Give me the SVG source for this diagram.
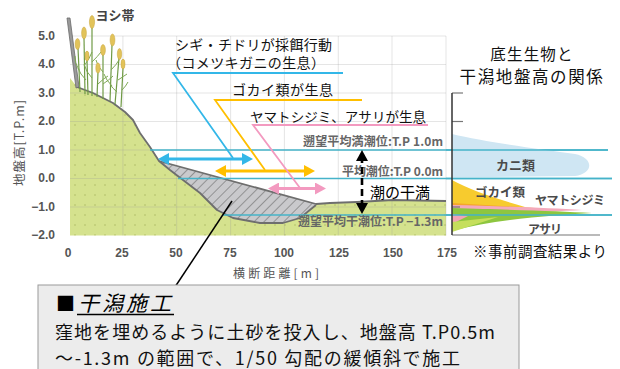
<svg xmlns="http://www.w3.org/2000/svg" width="620" height="369" viewBox="0 0 620 369">
  <style>
    .cjk { font-family: "Noto Sans CJK JP", "Liberation Sans", sans-serif; }
    .num { font-family: "Liberation Sans", "Noto Sans CJK JP", sans-serif; font-weight: bold; fill: #555; font-size: 12px; }
    .tide { font-family: "Noto Sans CJK JP", "Liberation Sans", sans-serif; font-weight: bold; fill: #666; font-size: 12px; }
    .grid { stroke: rgba(150,150,150,0.25); stroke-width: 1; }
    .tideline { stroke: #45b3c9; stroke-width: 1.6; fill: none; }
    .ground { stroke: #6e6e6e; stroke-width: 1.8; fill: none; stroke-linejoin: round; }
    .stalk { stroke: #6f9a45; stroke-width: 1.2; fill: none; }
    .leaf { stroke: #7fa955; stroke-width: 1; fill: none; }
    .plume { fill: #e2c35a; stroke: #c7a43c; stroke-width: 0.5; }
    .bio { font-family: "Noto Sans CJK JP", sans-serif; font-weight: bold; fill: #4a4a4a; }
  </style>
  <defs>
    <pattern id="dots" patternUnits="userSpaceOnUse" width="10" height="10">
      <circle cx="5" cy="5" r="0.8" fill="#aebb63"/>
    </pattern>
    <pattern id="hatch" patternUnits="userSpaceOnUse" width="7" height="7" patternTransform="rotate(45)">
      <rect width="7" height="7" fill="#c9c9cc"/>
      <line x1="0" y1="0" x2="0" y2="7" stroke="#7a7a7a" stroke-width="1.4"/>
    </pattern>
    <marker id="headBlue" markerUnits="userSpaceOnUse" markerWidth="12" markerHeight="12" refX="5" refY="6" orient="auto-start-reverse">
      <path d="M0,0 L11,6 L0,12 z" fill="#33b7e8"/>
    </marker>
    <marker id="headYellow" markerUnits="userSpaceOnUse" markerWidth="12" markerHeight="12" refX="5" refY="6" orient="auto-start-reverse">
      <path d="M0,0 L11,6 L0,12 z" fill="#ffbf00"/>
    </marker>
    <marker id="headPink" markerUnits="userSpaceOnUse" markerWidth="12" markerHeight="12" refX="5" refY="6" orient="auto-start-reverse">
      <path d="M0,0 L11,6 L0,12 z" fill="#f39ac0"/>
    </marker>
    <marker id="headBlack" markerUnits="userSpaceOnUse" markerWidth="12" markerHeight="12" refX="5" refY="6" orient="auto-start-reverse">
      <path d="M0,0 L11,6 L0,12 z" fill="#000"/>
    </marker>
  </defs>

  <rect width="620" height="369" fill="#fff"/>

  <!-- cross-section chart -->
  <g id="section">
    <!-- ground body -->
    <path d="M70,78 L77,87 L93,93 L113,103 L125,112 L133,120 L140,133 L150,147 L159,161 L316,204 L330,203 L357,202 L393,200 L446,201 L446,235.5 L70,235.5 Z" fill="#d5e28e"/>
    <path d="M70,78 L77,87 L93,93 L113,103 L125,112 L133,120 L140,133 L150,147 L159,161 L316,204 L330,203 L357,202 L393,200 L446,201 L446,235.5 L70,235.5 Z" fill="url(#dots)"/>
    <!-- grid -->
    <g class="grid">
      <line x1="70" y1="36" x2="446" y2="36"/>
      <line x1="70" y1="64.5" x2="446" y2="64.5"/>
      <line x1="70" y1="93" x2="446" y2="93"/>
      <line x1="70" y1="121.5" x2="446" y2="121.5"/>
      <line x1="70" y1="150" x2="446" y2="150"/>
      <line x1="70" y1="178.5" x2="446" y2="178.5"/>
      <line x1="70" y1="207" x2="446" y2="207"/>
      <line x1="122.9" y1="36" x2="122.9" y2="235.5"/>
      <line x1="176.7" y1="36" x2="176.7" y2="235.5"/>
      <line x1="230.6" y1="36" x2="230.6" y2="235.5"/>
      <line x1="284.4" y1="36" x2="284.4" y2="235.5"/>
      <line x1="338.3" y1="36" x2="338.3" y2="235.5"/>
      <line x1="392" y1="36" x2="392" y2="235.5"/>
      <line x1="446" y1="36" x2="446" y2="235.5"/>
    </g>
    <!-- fill placed in the hollow -->
    <path d="M159,161 L316,204 L300,218 L283,223 L260,223 L233,218 L217,210 L200,193 L183,180 L170,170 Z" fill="url(#hatch)"/>
    <path class="ground" d="M77,87 L93,93 L113,103 L125,112 L133,120 L140,133 L150,147 L159,161 L316,204 L330,203 L357,202 L393,200 L446,201"/>
    <path class="ground" d="M159,161 L170,170 L183,180 L200,193 L217,210 L233,218 L260,223 L283,223 L300,218 L316,205"/>
    <!-- revetment post -->
    <path d="M67,18 L70,18 L79,87 L76,88 Z" fill="#9a9a9a" stroke="#6a6a6a" stroke-width="0.8"/>
  </g>

  <!-- reed bed -->
  <g id="reeds">
    <path class="stalk" d="M80,92 L78,48"/>
    <path class="stalk" d="M85,94 L84,38"/>
    <path class="stalk" d="M92,96 L92,26"/>
    <path class="stalk" d="M88,95 L87,60"/>
    <path class="stalk" d="M97,97 L98,72"/>
    <path class="stalk" d="M103,99 L103,55"/>
    <path class="stalk" d="M110,101 L112,45"/>
    <path class="stalk" d="M115,104 L119,58"/>
    <path class="stalk" d="M121,107 L123,68"/>
    <path class="leaf" d="M79,70 Q74,62 75,56 M84,66 Q90,58 92,52 M86,80 Q80,74 78,68 M92,62 Q98,56 101,52 M92,78 Q86,72 84,64 M98,84 Q104,78 108,76 M103,72 Q97,66 96,60 M103,84 Q109,80 113,76 M111,70 Q117,64 119,60 M112,86 Q106,80 104,74 M118,80 Q124,76 127,74 M117,92 Q112,88 110,84 M122,90 Q126,86 128,82"/>
    <ellipse class="plume" cx="77.5" cy="44" rx="2.4" ry="5.5"/>
    <ellipse class="plume" cx="84" cy="33" rx="2.4" ry="6"/>
    <ellipse class="plume" cx="92" cy="22" rx="2.6" ry="6.5"/>
    <ellipse class="plume" cx="87" cy="56" rx="2" ry="5"/>
    <ellipse class="plume" cx="98" cy="68" rx="2.2" ry="5"/>
    <ellipse class="plume" cx="103" cy="50" rx="2.4" ry="5.5"/>
    <ellipse class="plume" cx="112.5" cy="40" rx="2.4" ry="6"/>
    <ellipse class="plume" cx="119.5" cy="54" rx="2.2" ry="5.5"/>
    <ellipse class="plume" cx="123" cy="64" rx="2" ry="5"/>
    <text x="115" y="20" class="cjk" font-size="13" font-weight="bold" fill="#444" text-anchor="middle">ヨシ帯</text>
  </g>

  <!-- axes labels -->
  <g id="axes">
    <g class="num" text-anchor="end">
      <text x="55" y="40">5.0</text>
      <text x="55" y="68">4.0</text>
      <text x="55" y="97">3.0</text>
      <text x="55" y="125">2.0</text>
      <text x="55" y="154">1.0</text>
      <text x="55" y="182">0.0</text>
      <text x="55" y="211">−1.0</text>
      <text x="55" y="239">−2.0</text>
    </g>
    <g class="num" text-anchor="middle">
      <text x="68" y="257">0</text>
      <text x="122" y="257">25</text>
      <text x="176" y="257">50</text>
      <text x="230" y="257">75</text>
      <text x="284" y="257">100</text>
      <text x="339" y="257">125</text>
      <text x="393" y="257">150</text>
      <text x="447" y="257">175</text>
    </g>
    <text x="276" y="278" class="cjk" font-size="12" fill="#555" text-anchor="middle" textLength="86">横断距離[m]</text>
    <text transform="translate(24,143) rotate(-90)" class="cjk" font-size="12.5" fill="#555" text-anchor="middle" textLength="86">地盤高[T.P.m]</text>
  </g>

  <!-- tide levels -->
  <g id="tides">
    <line class="tideline" x1="150" y1="150" x2="608" y2="150"/>
    <line class="tideline" x1="178" y1="178.5" x2="612" y2="178.5"/>
    <line class="tideline" x1="223" y1="215" x2="612" y2="215"/>
    <text x="303" y="146" class="tide" textLength="140">遡望平均満潮位:T.P 1.0m</text>
    <text x="342" y="176" class="tide" textLength="101">平均潮位:T.P 0.0m</text>
    <text x="298" y="226" class="tide" textLength="145">遡望平均干潮位:T.P −1.3m</text>
    <line x1="362" y1="156" x2="362" y2="208" stroke="#000" stroke-width="2.6" stroke-dasharray="7,4" marker-start="url(#headBlack)" marker-end="url(#headBlack)"/>
    <text x="370" y="198" class="cjk" font-size="15" fill="#000" textLength="60">潮の干満</text>
  </g>

  <!-- habitat callouts -->
  <g id="connectors" fill="none">
    <polyline points="343,73 173,73 233,158" stroke="#33b7e8" stroke-width="1.8"/>
    <line x1="164" y1="159" x2="247" y2="159" stroke="#33b7e8" stroke-width="3" marker-start="url(#headBlue)" marker-end="url(#headBlue)"/>
    <polyline points="362,100 215,100 265,170" stroke="#ffbf00" stroke-width="1.8"/>
    <line x1="221" y1="171" x2="309" y2="171" stroke="#ffbf00" stroke-width="3" marker-start="url(#headYellow)" marker-end="url(#headYellow)"/>
    <polyline points="428,125 253,125 300,188" stroke="#f39ac0" stroke-width="1.8"/>
    <line x1="274" y1="188.5" x2="320" y2="188.5" stroke="#f39ac0" stroke-width="3" marker-start="url(#headPink)" marker-end="url(#headPink)"/>
    <line x1="232" y1="201" x2="173" y2="290" stroke="#000" stroke-width="1.5"/>
  </g>
  <g id="callout-text" class="cjk" fill="#111">
    <text x="175" y="50" font-size="14" textLength="157">シギ・チドリが採餌行動</text>
    <text x="167" y="68" font-size="14" textLength="158">（コメツキガニの生息）</text>
    <text x="232" y="95" font-size="14" textLength="101">ゴカイ類が生息</text>
    <text x="250" y="122" font-size="13.5" textLength="176">ヤマトシジミ、アサリが生息</text>
  </g>

  <!-- benthos vs. elevation panel -->
  <g id="benthos">
    <text x="532" y="60" class="cjk" font-size="15.5" fill="#111" text-anchor="middle" letter-spacing="1.2">底生生物と</text>
    <text x="532" y="83" class="cjk" font-size="16.5" fill="#111" text-anchor="middle" letter-spacing="1.6">干潟地盤高の関係</text>
    <path d="M452,134 C485,142 540,149 575,154 C594,158 594,173 575,176 L452,177.5 Z" fill="#cfe6f3"/>
    <path d="M452,180 C470,190 500,200 525,207 L452,209 Z" fill="#f7cb2e"/>
    <path d="M452,203 L535,208 L452,214 Z" fill="#f5a62a"/>
    <path d="M452,205 C500,206 550,208 582,210 C550,212 500,213 452,214 Z" fill="#f4a9bb"/>
    <path d="M452,208 C520,210 560,211 592,213 C560,215 500,218 452,231 Z" fill="#8dc63f"/>
    <path d="M452,214 L468,216 L452,224 Z" fill="#f2a3b6"/>
    <path d="M452,222 L498,217 L452,232 Z" fill="#c5df5c"/>
    <line class="tideline" x1="446" y1="150" x2="608" y2="150"/>
    <line class="tideline" x1="446" y1="178.5" x2="612" y2="178.5"/>
    <line class="tideline" x1="446" y1="215" x2="612" y2="215"/>
    <g stroke="#777" stroke-width="1.2">
      <line x1="452" y1="93" x2="463" y2="93"/>
      <line x1="452" y1="121.5" x2="463" y2="121.5"/>
      <line x1="452" y1="207" x2="460" y2="207"/>
      <line x1="452" y1="235" x2="600" y2="235"/>
    </g>
    <line x1="452" y1="93" x2="452" y2="235" stroke="#333" stroke-width="1.5"/>
    <text x="496" y="170" class="bio" font-size="13">カニ類</text>
    <text x="475" y="197" class="bio" font-size="12.5" textLength="50">ゴカイ類</text>
    <text x="535" y="205" class="bio" font-size="12" textLength="70">ヤマトシジミ</text>
    <text x="528" y="234" class="bio" font-size="12" textLength="34">アサリ</text>
    <text x="473" y="257" class="cjk" font-size="14.5" fill="#111" textLength="134">※事前調査結果より</text>
  </g>

  <!-- construction note -->
  <g id="note">
    <rect x="38" y="285" width="481" height="90" fill="#ececec" stroke="#9a9a9a" stroke-width="1"/>
    <text x="56" y="311" class="cjk" font-size="19" fill="#000">■</text>
    <text x="78" y="311" class="cjk" font-size="21" font-style="italic" fill="#000" textLength="93">干潟施工</text>
    <line x1="77" y1="314.5" x2="174" y2="314.5" stroke="#000" stroke-width="1.4"/>
    <text x="55" y="339" class="cjk" font-size="18" fill="#111" textLength="440">窪地を埋めるように土砂を投入し、地盤高 T.P0.5m</text>
    <text x="55" y="365" class="cjk" font-size="18" fill="#111" textLength="405">～-1.3m の範囲で、1/50 勾配の緩傾斜で施工</text>
  </g>
</svg>
